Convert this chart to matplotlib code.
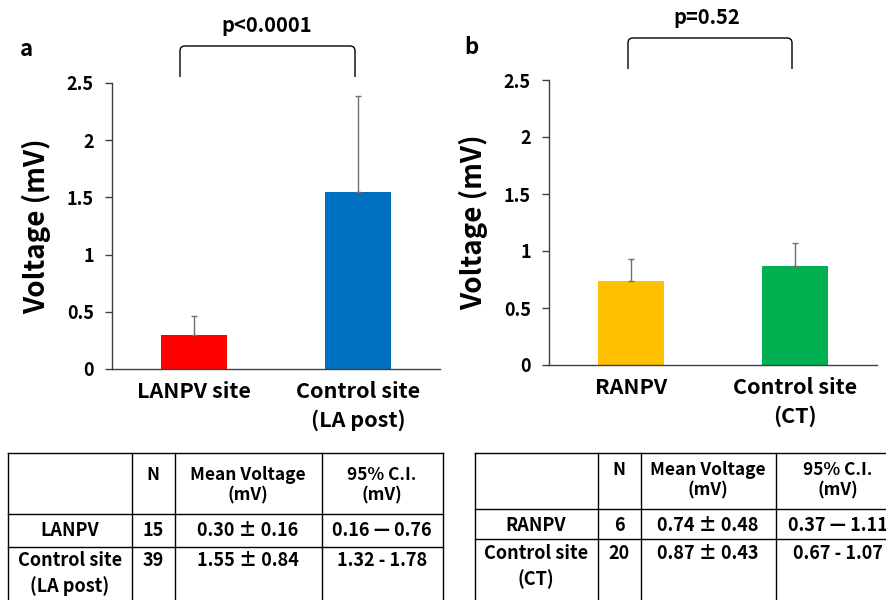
import matplotlib
matplotlib.use("Agg")
import matplotlib.pyplot as plt
from matplotlib.path import Path
from matplotlib.patches import PathPatch

plt.rcParams['font.family'] = ['Noto Sans CJK JP', 'DejaVu Sans']

# DATA
sites_a = ["LANPV site", "Control site\n(LA post)"]
means_a = [0.30, 1.55]
errs_a = [0.16, 0.84]
colors_a = ["#FF0000", "#0070C0"]
p_a = "p<0.0001"

sites_b = ["RANPV", "Control site\n(CT)"]
means_b = [0.74, 0.87]
errs_b = [0.19, 0.20]
colors_b = ["#FFC000", "#00B050"]
p_b = "p=0.52"

yticks = [0, 0.5, 1, 1.5, 2, 2.5]
ytick_labels = ["0", "0.5", "1", "1.5", "2", "2.5"]

table_header = ["", "N", "Mean Voltage\n(mV)", "95% C.I.\n(mV)"]
table_a = [["LANPV", "15", "0.30 ± 0.16", "0.16 — 0.76"],
           ["Control site\n(LA post)", "39", "1.55 ± 0.84", "1.32 - 1.78"]]
table_b = [["RANPV", "6", "0.74 ± 0.48", "0.37 — 1.11"],
           ["Control site\n(CT)", "20", "0.87 ± 0.43", "0.67 - 1.07"]]

W, H = 887, 600
fig = plt.figure(figsize=(W / 100, H / 100), dpi=100)


def fx(px):
    return px / W


def fy(py):
    return 1 - py / H


def bar_panel(rect, sites, means, errs, colors):
    ax = fig.add_axes(rect)
    x = range(len(sites))
    ax.bar(x, means, width=0.4, color=colors, zorder=2)
    ax.errorbar(x, means, yerr=[[0] * len(errs), errs], fmt="none",
                ecolor="#6f6f6f", elinewidth=1, capsize=2.5, capthick=1, zorder=3)
    ax.set_xlim(-0.5, 1.5)
    ax.set_ylim(0, 2.5)
    ax.set_yticks(yticks)
    ax.set_yticklabels(ytick_labels, fontsize=13, fontweight="bold")
    ax.set_xticks(list(x))
    ax.set_xticklabels(sites, fontsize=15.5, fontweight="bold", linespacing=1.4)
    ax.tick_params(axis="x", length=0, pad=9)
    ax.tick_params(axis="y", length=5, width=1, color="#404040", pad=8)
    for s in ["top", "right"]:
        ax.spines[s].set_visible(False)
    for s in ["left", "bottom"]:
        ax.spines[s].set_color("#404040")
        ax.spines[s].set_linewidth(1)
    ax.set_ylabel("Voltage (mV)", fontsize=20, fontweight="bold", labelpad=11)
    return ax


def bracket(x0, x1, ytop, ybot, r=5):
    verts = [(fx(x0), fy(ybot)), (fx(x0), fy(ytop + r)), (fx(x0), fy(ytop)),
             (fx(x0 + r), fy(ytop)), (fx(x1 - r), fy(ytop)), (fx(x1), fy(ytop)),
             (fx(x1), fy(ytop + r)), (fx(x1), fy(ybot))]
    codes = [Path.MOVETO, Path.LINETO, Path.CURVE3, Path.CURVE3, Path.LINETO,
             Path.CURVE3, Path.CURVE3, Path.LINETO]
    fig.patches.append(PathPatch(Path(verts, codes), fill=False, lw=1,
                                 ec="black", transform=fig.transFigure))


def draw_table(cols, rows, header, body, text_y, centers):
    for c in cols:
        fig.add_artist(plt.Line2D([fx(c), fx(c)], [fy(rows[0]), fy(H + 5)],
                                  color="black", lw=1))
    for r in rows:
        fig.add_artist(plt.Line2D([fx(cols[0]), fx(cols[-1])], [fy(r), fy(r)],
                                  color="black", lw=1))
    for i, txt in enumerate(header):
        fig.text(fx(centers[i]), fy(text_y[0]), txt, ha="center", va="top",
                 fontsize=12.5, fontweight="bold", linespacing=1.2)
    for j, row in enumerate(body):
        for i, txt in enumerate(row):
            fig.text(fx(centers[i]), fy(text_y[j + 1]), txt, ha="center", va="top",
                     fontsize=13, fontweight="bold", linespacing=1.4)


ax_a = bar_panel([fx(112), fy(369), fx(328), (369 - 83) / H],
                 sites_a, means_a, errs_a, colors_a)
ax_b = bar_panel([fx(549), fy(365), fx(328), (365 - 80) / H],
                 sites_b, means_b, errs_b, colors_b)

fig.text(fx(20), fy(50), "a", fontsize=16, fontweight="bold", va="center")
fig.text(fx(464), fy(48), "b", fontsize=16, fontweight="bold", va="center")

bracket(180, 355, 46, 77)
fig.text(fx(267), fy(25), p_a, ha="center", va="center", fontsize=14.5, fontweight="bold")
bracket(628, 792, 38, 69)
fig.text(fx(707), fy(18), p_b, ha="center", va="center", fontsize=14.5, fontweight="bold")

draw_table([8, 132, 175, 322, 443], [453, 514, 547], table_header, table_a,
           [466, 521, 551], [70, 153, 248, 382])
draw_table([475, 598, 641, 776, 934], [453, 509, 539], table_header, table_b,
           [461, 516, 544], [536, 619, 708, 838])

fig.savefig("out.png", dpi=100)
